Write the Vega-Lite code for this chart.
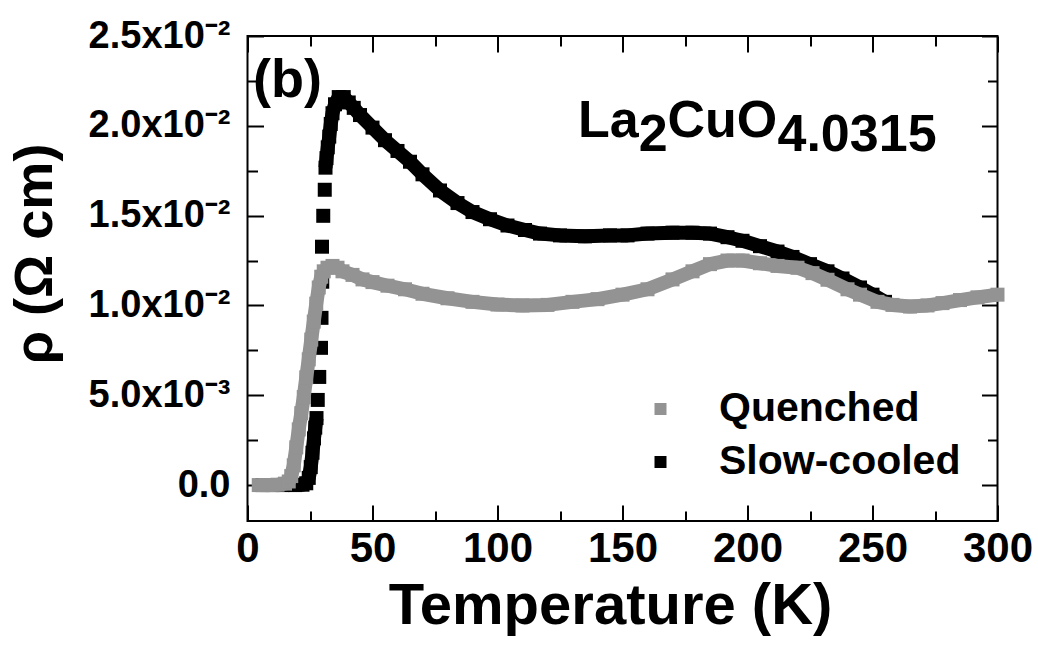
{
  "$schema": "https://vega.github.io/schema/vega-lite/v6.json",
  "width": 750,
  "height": 485,
  "autosize": {"type": "none"},
  "padding": {"left": 247.5, "top": 36, "right": 40.5, "bottom": 124},
  "background": "white",
  "config": {
    "view": {"stroke": "#000", "strokeWidth": 2},
    "font": "Liberation Sans",
    "axis": {
      "grid": false, "domain": false, "tickColor": "#000", "tickWidth": 2,
      "labelColor": "#000", "titleColor": "#000",
      "labelFont": "Liberation Sans", "labelFontWeight": "bold",
      "titleFont": "Liberation Sans", "titleFontWeight": "bold",
      "labelOverlap": false, "labelFlush": false
    }
  },
  "datasets": {
    "rho": [
      {"series": "Quenched", "run": "q", "T": 4.5, "rho": 0.0},
      {"series": "Quenched", "run": "q", "T": 8, "rho": 0.0},
      {"series": "Quenched", "run": "q", "T": 12, "rho": 0.00002},
      {"series": "Quenched", "run": "q", "T": 15, "rho": 0.00008},
      {"series": "Quenched", "run": "q", "T": 16.5, "rho": 0.0002},
      {"series": "Quenched", "run": "q", "T": 17.5, "rho": 0.0005},
      {"series": "Quenched", "run": "q", "T": 18.5, "rho": 0.0011},
      {"series": "Quenched", "run": "q", "T": 19.5, "rho": 0.0021},
      {"series": "Quenched", "run": "q", "T": 20.5, "rho": 0.0031},
      {"series": "Quenched", "run": "q", "T": 21.5, "rho": 0.0040},
      {"series": "Quenched", "run": "q", "T": 22.5, "rho": 0.0049},
      {"series": "Quenched", "run": "q", "T": 23.5, "rho": 0.0060},
      {"series": "Quenched", "run": "q", "T": 24.5, "rho": 0.0070},
      {"series": "Quenched", "run": "q", "T": 25.5, "rho": 0.0081},
      {"series": "Quenched", "run": "q", "T": 26.5, "rho": 0.0091},
      {"series": "Quenched", "run": "q", "T": 27.5, "rho": 0.0101},
      {"series": "Quenched", "run": "q", "T": 28.5, "rho": 0.0110},
      {"series": "Quenched", "run": "q", "T": 29.5, "rho": 0.0116},
      {"series": "Quenched", "run": "q", "T": 30.5, "rho": 0.0119},
      {"series": "Quenched", "run": "q", "T": 32, "rho": 0.0121},
      {"series": "Quenched", "run": "q", "T": 34, "rho": 0.0122},
      {"series": "Quenched", "run": "q", "T": 36, "rho": 0.0121},
      {"series": "Quenched", "run": "q", "T": 38, "rho": 0.0119},
      {"series": "Quenched", "run": "q", "T": 42, "rho": 0.0117},
      {"series": "Quenched", "run": "q", "T": 46, "rho": 0.01145},
      {"series": "Quenched", "run": "q", "T": 50, "rho": 0.0113},
      {"series": "Quenched", "run": "q", "T": 56, "rho": 0.0111},
      {"series": "Quenched", "run": "q", "T": 63, "rho": 0.0109},
      {"series": "Quenched", "run": "q", "T": 70, "rho": 0.01065},
      {"series": "Quenched", "run": "q", "T": 80, "rho": 0.0104},
      {"series": "Quenched", "run": "q", "T": 90, "rho": 0.0102},
      {"series": "Quenched", "run": "q", "T": 100, "rho": 0.01005},
      {"series": "Quenched", "run": "q", "T": 110, "rho": 0.0100},
      {"series": "Quenched", "run": "q", "T": 120, "rho": 0.01003},
      {"series": "Quenched", "run": "q", "T": 130, "rho": 0.0102},
      {"series": "Quenched", "run": "q", "T": 140, "rho": 0.01035},
      {"series": "Quenched", "run": "q", "T": 150, "rho": 0.0106},
      {"series": "Quenched", "run": "q", "T": 160, "rho": 0.0109},
      {"series": "Quenched", "run": "q", "T": 170, "rho": 0.01145},
      {"series": "Quenched", "run": "q", "T": 178, "rho": 0.0119},
      {"series": "Quenched", "run": "q", "T": 185, "rho": 0.0123},
      {"series": "Quenched", "run": "q", "T": 192, "rho": 0.0125},
      {"series": "Quenched", "run": "q", "T": 198, "rho": 0.0125},
      {"series": "Quenched", "run": "q", "T": 205, "rho": 0.01235},
      {"series": "Quenched", "run": "q", "T": 212, "rho": 0.0122},
      {"series": "Quenched", "run": "q", "T": 220, "rho": 0.0121},
      {"series": "Quenched", "run": "q", "T": 226, "rho": 0.0118},
      {"series": "Quenched", "run": "q", "T": 232, "rho": 0.01143},
      {"series": "Quenched", "run": "q", "T": 240, "rho": 0.0109},
      {"series": "Quenched", "run": "q", "T": 245, "rho": 0.0106},
      {"series": "Quenched", "run": "q", "T": 252, "rho": 0.0102},
      {"series": "Quenched", "run": "q", "T": 258, "rho": 0.01003},
      {"series": "Quenched", "run": "q", "T": 265, "rho": 0.00994},
      {"series": "Quenched", "run": "q", "T": 272, "rho": 0.0100},
      {"series": "Quenched", "run": "q", "T": 278, "rho": 0.01013},
      {"series": "Quenched", "run": "q", "T": 285, "rho": 0.0103},
      {"series": "Quenched", "run": "q", "T": 292, "rho": 0.01045},
      {"series": "Quenched", "run": "q", "T": 300, "rho": 0.0106},

      {"series": "Slow-cooled", "run": "a", "T": 6, "rho": 0.0},
      {"series": "Slow-cooled", "run": "a", "T": 10, "rho": 0.0},
      {"series": "Slow-cooled", "run": "a", "T": 14, "rho": 0.0},
      {"series": "Slow-cooled", "run": "a", "T": 19, "rho": 0.0},
      {"series": "Slow-cooled", "run": "a", "T": 22, "rho": 0.00002},
      {"series": "Slow-cooled", "run": "a", "T": 23.5, "rho": 0.0001},
      {"series": "Slow-cooled", "run": "a", "T": 24.5, "rho": 0.0004},
      {"series": "Slow-cooled", "run": "a", "T": 25.3, "rho": 0.0010},
      {"series": "Slow-cooled", "run": "a", "T": 26.0, "rho": 0.0018},
      {"series": "Slow-cooled", "run": "a", "T": 26.6, "rho": 0.0026},
      {"series": "Slow-cooled", "run": "a", "T": 27.1, "rho": 0.0032},
      {"series": "Slow-cooled", "run": "a", "T": 27.6, "rho": 0.00373},
      {"series": "Slow-cooled", "run": "b1", "T": 28.1, "rho": 0.00474},
      {"series": "Slow-cooled", "run": "b2", "T": 28.7, "rho": 0.00602},
      {"series": "Slow-cooled", "run": "b3", "T": 29.4, "rho": 0.00764},
      {"series": "Slow-cooled", "run": "b4", "T": 29.6, "rho": 0.00931},
      {"series": "Slow-cooled", "run": "b5", "T": 29.9, "rho": 0.01132},
      {"series": "Slow-cooled", "run": "b6", "T": 29.8, "rho": 0.01327},
      {"series": "Slow-cooled", "run": "b7", "T": 30.3, "rho": 0.01499},
      {"series": "Slow-cooled", "run": "b8", "T": 30.9, "rho": 0.01644},
      {"series": "Slow-cooled", "run": "c", "T": 31.2, "rho": 0.01767},
      {"series": "Slow-cooled", "run": "c", "T": 31.6, "rho": 0.0182},
      {"series": "Slow-cooled", "run": "c", "T": 32.1, "rho": 0.0188},
      {"series": "Slow-cooled", "run": "c", "T": 32.7, "rho": 0.0194},
      {"series": "Slow-cooled", "run": "c", "T": 33.3, "rho": 0.0201},
      {"series": "Slow-cooled", "run": "c", "T": 34, "rho": 0.0207},
      {"series": "Slow-cooled", "run": "c", "T": 35, "rho": 0.0212},
      {"series": "Slow-cooled", "run": "c", "T": 36.5, "rho": 0.0216},
      {"series": "Slow-cooled", "run": "c", "T": 38.5, "rho": 0.0216},
      {"series": "Slow-cooled", "run": "c", "T": 40.5, "rho": 0.0213},
      {"series": "Slow-cooled", "run": "c", "T": 42.5, "rho": 0.0210},
      {"series": "Slow-cooled", "run": "c", "T": 45, "rho": 0.0206},
      {"series": "Slow-cooled", "run": "c", "T": 50, "rho": 0.0199},
      {"series": "Slow-cooled", "run": "c", "T": 55, "rho": 0.0192},
      {"series": "Slow-cooled", "run": "c", "T": 60, "rho": 0.0186},
      {"series": "Slow-cooled", "run": "c", "T": 65, "rho": 0.0180},
      {"series": "Slow-cooled", "run": "c", "T": 70, "rho": 0.0173},
      {"series": "Slow-cooled", "run": "c", "T": 77, "rho": 0.0164},
      {"series": "Slow-cooled", "run": "c", "T": 84, "rho": 0.0157},
      {"series": "Slow-cooled", "run": "c", "T": 90, "rho": 0.0152},
      {"series": "Slow-cooled", "run": "c", "T": 97, "rho": 0.0148},
      {"series": "Slow-cooled", "run": "c", "T": 104, "rho": 0.01445},
      {"series": "Slow-cooled", "run": "c", "T": 111, "rho": 0.0142},
      {"series": "Slow-cooled", "run": "c", "T": 117, "rho": 0.0140},
      {"series": "Slow-cooled", "run": "c", "T": 125, "rho": 0.0139},
      {"series": "Slow-cooled", "run": "c", "T": 135, "rho": 0.01385},
      {"series": "Slow-cooled", "run": "c", "T": 145, "rho": 0.0139},
      {"series": "Slow-cooled", "run": "c", "T": 152, "rho": 0.0139},
      {"series": "Slow-cooled", "run": "c", "T": 160, "rho": 0.0140},
      {"series": "Slow-cooled", "run": "c", "T": 170, "rho": 0.01405},
      {"series": "Slow-cooled", "run": "c", "T": 178, "rho": 0.01405},
      {"series": "Slow-cooled", "run": "c", "T": 185, "rho": 0.0140},
      {"series": "Slow-cooled", "run": "c", "T": 192, "rho": 0.0138},
      {"series": "Slow-cooled", "run": "c", "T": 198, "rho": 0.0136},
      {"series": "Slow-cooled", "run": "c", "T": 205, "rho": 0.0133},
      {"series": "Slow-cooled", "run": "c", "T": 212, "rho": 0.0130},
      {"series": "Slow-cooled", "run": "c", "T": 218, "rho": 0.0127},
      {"series": "Slow-cooled", "run": "c", "T": 225, "rho": 0.0123},
      {"series": "Slow-cooled", "run": "c", "T": 232, "rho": 0.0119},
      {"series": "Slow-cooled", "run": "c", "T": 238, "rho": 0.0115},
      {"series": "Slow-cooled", "run": "c", "T": 245, "rho": 0.0110},
      {"series": "Slow-cooled", "run": "c", "T": 250, "rho": 0.0106},
      {"series": "Slow-cooled", "run": "c", "T": 255, "rho": 0.0102}
    ],
    "formula": [
      {"label": "La", "T": 132.2, "rho": 0.0194},
      {"label": "2", "T": 156.5, "rho": 0.01862},
      {"label": "CuO", "T": 168.0, "rho": 0.0194},
      {"label": "4.0315", "T": 212.0, "rho": 0.01862}
    ],
    "panel": [
      {"label": "(b)", "T": 2.2, "rho": 0.0216}
    ]
  },
  "data": {"name": "rho"},
  "layer": [
    {
      "transform": [{"filter": "datum.series === 'Slow-cooled'"}],
      "mark": {"type": "line", "color": "#000000", "strokeWidth": 14, "strokeJoin": "round"},
      "encoding": {
        "x": {"field": "T", "type": "quantitative", "scale": {"domain": [0, 300], "nice": false, "zero": false},
          "axis": {"orient": "bottom", "values": [0, 50, 100, 150, 200, 250, 300], "tickSize": -16, "labelPadding": 23,
            "labelFontSize": 42, "title": "Temperature (K)", "titleFontSize": 58, "titleX": 362.5, "titleY": 102,
            "titleBaseline": "alphabetic", "titleAlign": "center"}},
        "y": {"field": "rho", "type": "quantitative", "scale": {"domain": [-0.002, 0.025], "nice": false, "zero": false},
          "axis": {"orient": "left", "values": [0, 0.005, 0.01, 0.015, 0.02, 0.025], "tickSize": -16, "labelPadding": 33.5,
            "labelFontSize": 38,
            "labelExpr": "datum.value === 0 ? '0.0' : (datum.value < 0.0099 ? format(datum.value*1000,'.1f') + 'x10⁻³' : format(datum.value*100,'.1f') + 'x10⁻²')",
            "title": "ρ (Ω cm)", "titleFontSize": 54, "titleAngle": 270, "titleX": -196.5, "titleY": 217.5,
            "titleBaseline": "alphabetic", "titleAlign": "center"}},
        "detail": {"field": "run"}
      }
    },
    {
      "transform": [{"filter": "datum.series === 'Slow-cooled'"}],
      "mark": {"type": "point", "shape": "square", "filled": true, "size": 196, "opacity": 1, "strokeWidth": 0},
      "encoding": {
        "x": {"field": "T", "type": "quantitative", "scale": {"domain": [0, 300], "nice": false, "zero": false},
          "axis": {"orient": "bottom", "values": [25, 75, 125, 175, 225, 275], "tickSize": -10, "labels": false, "title": null}},
        "y": {"field": "rho", "type": "quantitative", "scale": {"domain": [-0.002, 0.025], "nice": false, "zero": false},
          "axis": {"orient": "left", "values": [0.0025, 0.0075, 0.0125, 0.0175, 0.0225], "tickSize": -10, "labels": false, "title": null}},
        "color": {"field": "series", "type": "nominal",
          "scale": {"domain": ["Quenched", "Slow-cooled"], "range": ["#939393", "#000000"]},
          "legend": {"orient": "none", "legendX": 392.5, "legendY": 352.5, "title": null, "symbolType": "square",
            "symbolSize": 144, "symbolStrokeWidth": 0, "labelFontSize": 41, "labelFont": "Liberation Sans",
            "labelFontWeight": "bold", "labelColor": "#000", "labelOffset": 38, "labelLimit": 500, "rowPadding": 11, "padding": 0}}
      }
    },
    {
      "transform": [{"filter": "datum.series === 'Quenched'"}],
      "mark": {"type": "line", "color": "#939393", "strokeWidth": 14, "strokeJoin": "round"},
      "encoding": {
        "x": {"field": "T", "type": "quantitative", "scale": {"domain": [0, 300], "nice": false, "zero": false},
          "axis": {"orient": "top", "values": [0, 50, 100, 150, 200, 250, 300], "tickSize": -16, "labels": false, "title": null}},
        "y": {"field": "rho", "type": "quantitative", "scale": {"domain": [-0.002, 0.025], "nice": false, "zero": false},
          "axis": {"orient": "right", "values": [0, 0.005, 0.01, 0.015, 0.02, 0.025], "tickSize": -16, "labels": false, "title": null}},
        "detail": {"field": "run"}
      }
    },
    {
      "transform": [{"filter": "datum.series === 'Quenched'"}],
      "mark": {"type": "point", "shape": "square", "filled": true, "size": 196, "opacity": 1, "strokeWidth": 0},
      "encoding": {
        "x": {"field": "T", "type": "quantitative", "scale": {"domain": [0, 300], "nice": false, "zero": false},
          "axis": {"orient": "top", "values": [25, 75, 125, 175, 225, 275], "tickSize": -10, "labels": false, "title": null}},
        "y": {"field": "rho", "type": "quantitative", "scale": {"domain": [-0.002, 0.025], "nice": false, "zero": false},
          "axis": {"orient": "right", "values": [0.0025, 0.0075, 0.0125, 0.0175, 0.0225], "tickSize": -10, "labels": false, "title": null}},
        "color": {"field": "series", "type": "nominal",
          "scale": {"domain": ["Quenched", "Slow-cooled"], "range": ["#939393", "#000000"]},
          "legend": {"orient": "none", "legendX": 392.5, "legendY": 352.5, "title": null, "symbolType": "square",
            "symbolSize": 144, "symbolStrokeWidth": 0, "labelFontSize": 41, "labelFont": "Liberation Sans",
            "labelFontWeight": "bold", "labelColor": "#000", "labelOffset": 38, "labelLimit": 500, "rowPadding": 11, "padding": 0}}
      }
    },
    {
      "data": {"name": "formula"},
      "mark": {"type": "text", "align": "left", "baseline": "alphabetic", "font": "Liberation Sans", "fontWeight": "bold", "fontSize": 52, "color": "#000"},
      "encoding": {
        "x": {"field": "T", "type": "quantitative", "axis": null},
        "y": {"field": "rho", "type": "quantitative", "axis": null},
        "text": {"field": "label"}
      }
    },
    {
      "data": {"name": "panel"},
      "mark": {"type": "text", "align": "left", "baseline": "alphabetic", "font": "Liberation Sans", "fontWeight": "bold", "fontSize": 54, "color": "#000"},
      "encoding": {
        "x": {"field": "T", "type": "quantitative", "axis": null},
        "y": {"field": "rho", "type": "quantitative", "axis": null},
        "text": {"field": "label"}
      }
    }
  ],
  "resolve": {"axis": {"x": "independent", "y": "independent"}}
}
